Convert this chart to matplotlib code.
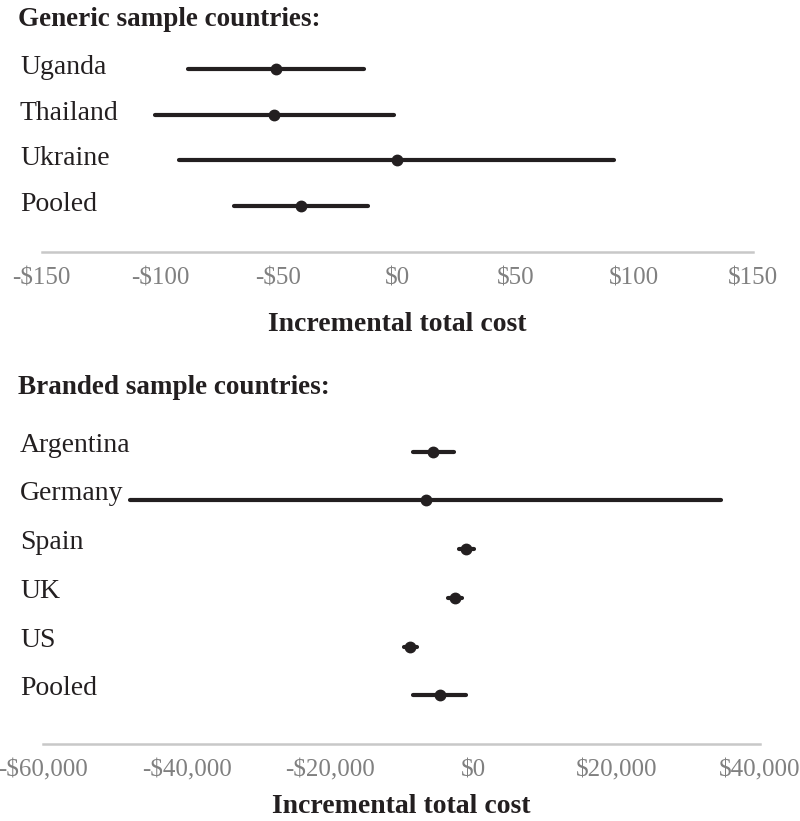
import matplotlib
matplotlib.use("Agg")
import matplotlib.pyplot as plt
from matplotlib.ticker import FuncFormatter

# ---- data ----
generic_countries = ["Uganda", "Thailand", "Ukraine", "Pooled"]
generic_est = [-51.2, -51.8, -0.1, -40.4]
generic_lo = [-88.1, -102.2, -91.9, -68.6]
generic_hi = [-14.1, -1.3, 91.6, -12.2]
generic_ticks = [-150, -100, -50, 0, 50, 100, 150]

branded_countries = ["Argentina", "Germany", "Spain", "UK", "US", "Pooled"]
branded_est = [-5610, -6670, -1050, -2620, -8820, -4680]
branded_lo = [-8350, -47900, -1980, -3600, -9740, -8350]
branded_hi = [-2760, 34600, 30, -1560, -7890, -1000]
branded_ticks = [-60000, -40000, -20000, 0, 20000, 40000]

title_generic = "Generic sample countries:"
title_branded = "Branded sample countries:"
xlabel_text = "Incremental total cost"

# ---- style ----
FONT = "Liberation Serif"
plt.rcParams["font.family"] = [FONT, "DejaVu Serif"]
INK = "#231f20"
GRAY = "#808080"
W, H = 800, 821

fig = plt.figure(figsize=(W / 100, H / 100), dpi=100)


def money(v, pos=None):
    v = int(round(v))
    s = "${:,}".format(abs(v))
    return "-" + s if v < 0 else s


def fy(px):
    return 1 - px / H


def panel(rect, cats, est, lo, hi, ticks, label_offset_pt):
    ax = fig.add_axes(rect)
    n = len(cats)
    ys = list(range(n - 1, -1, -1))
    for y, e, l, h in zip(ys, est, lo, hi):
        ax.plot([l, h], [y, y], color=INK, lw=3.0, solid_capstyle="round", zorder=2)
        ax.plot([e], [y], "o", color=INK, ms=7.5, zorder=3)
    ax.set_ylim(-1, n)
    ax.set_xlim(ticks[0], ticks[-1])
    ax.set_xticks(ticks)
    ax.xaxis.set_major_formatter(FuncFormatter(money))
    ax.tick_params(axis="x", length=0, pad=11, labelsize=18, labelcolor=GRAY)
    ax.set_yticks([])
    for s in ["top", "left", "right"]:
        ax.spines[s].set_visible(False)
    ax.spines["bottom"].set_color("#c8c8c8")
    ax.spines["bottom"].set_linewidth(1.8)
    for y, c in zip(ys, cats):
        ax.annotate(c, xy=(20 / W, y), xycoords=("figure fraction", "data"),
                    xytext=(0, label_offset_pt), textcoords="offset points",
                    ha="left", va="baseline", fontsize=20, color=INK)
    return ax


# top panel: rows 69..206 px, axis at 252 px
panel([41.5 / W, fy(252), 711 / W, (252 - 23) / H],
      generic_countries, generic_est, generic_lo, generic_hi, generic_ticks, -3.6)
# bottom panel: rows 452..696 px, axis at 744 px
panel([43.4 / W, fy(744), 716.5 / W, (744 - 403) / H],
      branded_countries, branded_est, branded_lo, branded_hi, branded_ticks, 0)

fig.text(18 / W, fy(26), title_generic, ha="left", va="baseline",
         fontsize=19.5, fontweight="bold", color=INK)
fig.text(18 / W, fy(394), title_branded, ha="left", va="baseline",
         fontsize=19.5, fontweight="bold", color=INK)
fig.text(397 / W, fy(331), xlabel_text, ha="center", va="baseline",
         fontsize=20, fontweight="bold", color=INK)
fig.text(401 / W, fy(813), xlabel_text, ha="center", va="baseline",
         fontsize=20, fontweight="bold", color=INK)

fig.savefig("out.png", dpi=100, facecolor="white")
